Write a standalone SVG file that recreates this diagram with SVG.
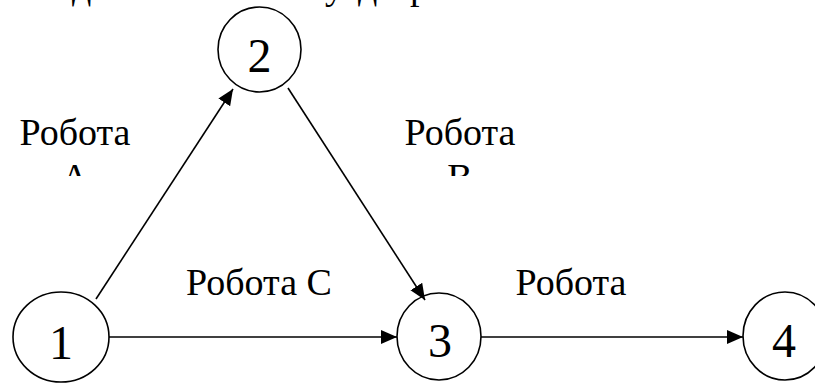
<svg xmlns="http://www.w3.org/2000/svg" width="815" height="389" viewBox="0 0 815 389">
  <style>
    .node { fill: none; stroke: #000; stroke-width: 1.6; }
    .num { font-family: "Liberation Serif", "Times New Roman", serif; font-size: 48px; fill: #000; text-anchor: middle; }
    .lbl { font-family: "Liberation Serif", "Times New Roman", serif; font-size: 38px; fill: #000; text-anchor: middle; }
    .edge { fill: none; stroke: #000; stroke-width: 1.6; marker-end: url(#arrow); }
  </style>
  <defs>
    <marker id="arrow" markerUnits="userSpaceOnUse" markerWidth="17" markerHeight="15" refX="16" refY="7" orient="auto">
      <path d="M0,0 L16,7 L0,14 z" fill="#000"/>
    </marker>
    <clipPath id="labelBox">
      <rect x="0" y="100" width="815" height="76"/>
    </clipPath>
  </defs>
  <rect width="815" height="389" fill="#fff"/>

  <!-- line of text above, cut off at the top edge -->
  <g id="heading" class="lbl" style="text-anchor:start">
    <text x="72" y="-1">д</text>
    <text x="325" y="-1">у</text>
    <text x="358" y="-1">д</text>
    <text x="410" y="-1">р</text>
  </g>

  <!-- connectors -->
  <g id="connectors">
    <line class="edge" x1="96" y1="299" x2="233" y2="89"/>
    <line class="edge" x1="288" y1="88" x2="425" y2="300"/>
    <line class="edge" x1="109" y1="337" x2="397" y2="337"/>
    <line class="edge" x1="481" y1="337" x2="743" y2="337"/>
  </g>

  <!-- edge labels -->
  <g id="label-a" clip-path="url(#labelBox)">
    <text class="lbl" x="75" y="145">Робота</text>
    <text class="lbl" x="75" y="190">А</text>
  </g>
  <g id="label-b" clip-path="url(#labelBox)">
    <text class="lbl" x="460" y="145">Робота</text>
    <text class="lbl" x="460" y="190">В</text>
  </g>
  <g id="label-c">
    <text class="lbl" x="259" y="295">Робота С</text>
  </g>
  <g id="label-d">
    <text class="lbl" x="571" y="295">Робота</text>
  </g>

  <!-- events -->
  <g id="node-1">
    <ellipse class="node" cx="61" cy="337" rx="48" ry="45"/>
    <text class="num" x="61" y="359">1</text>
  </g>
  <g id="node-2">
    <ellipse class="node" cx="259.5" cy="49.5" rx="41.5" ry="42.5"/>
    <text class="num" x="259.5" y="72">2</text>
  </g>
  <g id="node-3">
    <ellipse class="node" cx="439" cy="336.5" rx="42" ry="43.5"/>
    <text class="num" x="440" y="357">3</text>
  </g>
  <g id="node-4">
    <ellipse class="node" cx="785" cy="336" rx="42" ry="44"/>
    <text class="num" x="784" y="357">4</text>
  </g>
</svg>
